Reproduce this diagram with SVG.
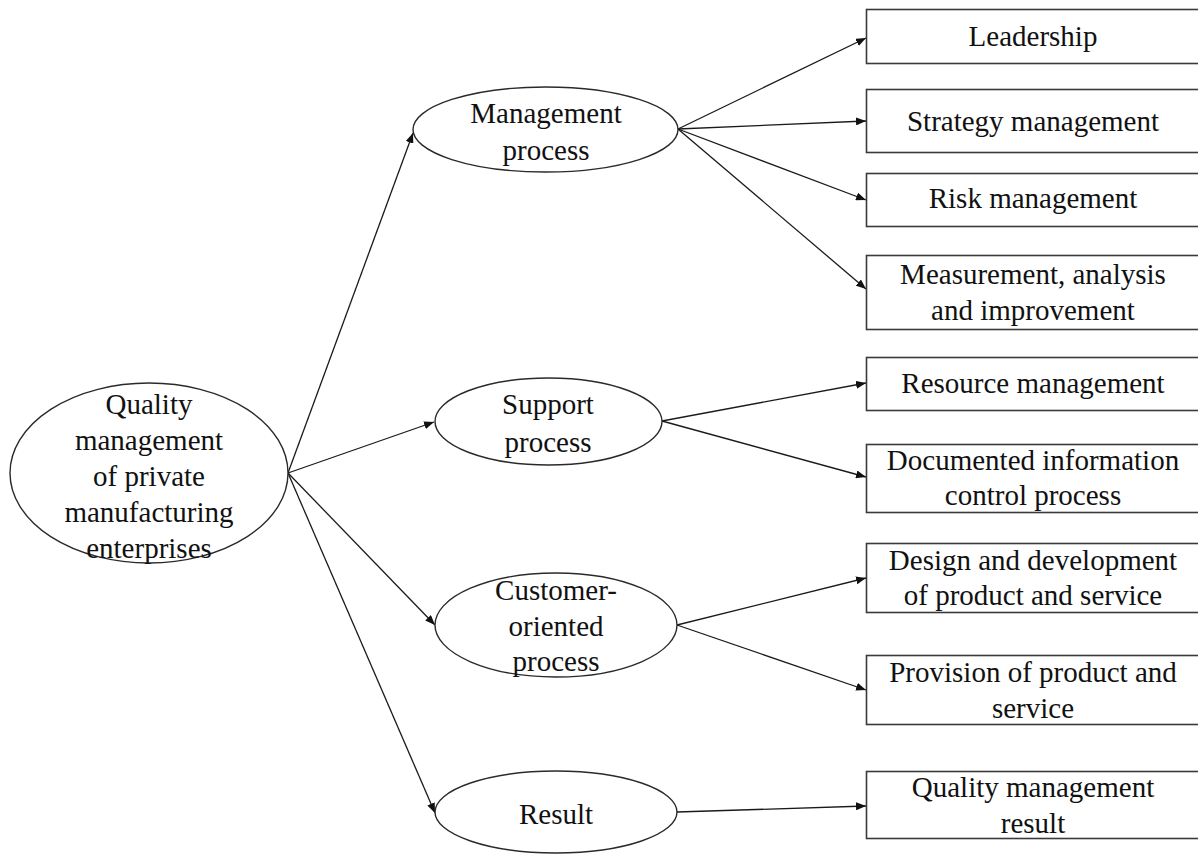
<svg xmlns="http://www.w3.org/2000/svg" width="1198" height="854" viewBox="0 0 1198 854">
  <defs>
    <style>
      .ell { fill: #ffffff; stroke: #2a2a2a; stroke-width: 1.4; }
      .box { fill: #ffffff; stroke: #3a3a3a; stroke-width: 1.6; }
      .lbl { font-family: "Liberation Serif", "Times New Roman", serif; font-size: 29px; fill: #111111; text-anchor: middle; }
      .edge { fill: none; stroke: #1a1a1a; stroke-width: 1.3; marker-end: url(#arrow); }
    </style>
    <marker id="arrow" viewBox="0 0 10 8" refX="10" refY="4" markerWidth="10" markerHeight="8" markerUnits="userSpaceOnUse" orient="auto">
      <path d="M0,0 L10,4 L0,8 Z" fill="#111111"/>
    </marker>
  </defs>

  <rect width="1198" height="854" fill="#ffffff"/>

  <!-- connectors -->
  <g id="connectors">
    <line class="edge" x1="288" y1="473" x2="413" y2="133"/>
    <line class="edge" x1="288" y1="473" x2="434" y2="422"/>
    <line class="edge" x1="288" y1="473" x2="435" y2="625"/>
    <line class="edge" x1="288" y1="473" x2="435" y2="813"/>

    <line class="edge" x1="678" y1="129" x2="866" y2="38"/>
    <line class="edge" x1="678" y1="129" x2="866" y2="121"/>
    <line class="edge" x1="678" y1="129" x2="866" y2="200"/>
    <line class="edge" x1="678" y1="129" x2="866" y2="289"/>

    <line class="edge" x1="662" y1="421" x2="866" y2="383"/>
    <line class="edge" x1="662" y1="421" x2="866" y2="477"/>

    <line class="edge" x1="677" y1="625" x2="866" y2="578"/>
    <line class="edge" x1="677" y1="625" x2="866" y2="690"/>

    <line class="edge" x1="677" y1="812" x2="866" y2="806"/>
  </g>

  <!-- root -->
  <g id="node-root">
    <ellipse class="ell" cx="149" cy="473" rx="139" ry="90"/>
    <text class="lbl" x="149" y="414">Quality</text>
    <text class="lbl" x="149" y="450">management</text>
    <text class="lbl" x="149" y="486">of private</text>
    <text class="lbl" x="149" y="522">manufacturing</text>
    <text class="lbl" x="149" y="558">enterprises</text>
  </g>

  <!-- process ellipses -->
  <g id="node-management">
    <ellipse class="ell" cx="545.5" cy="129.5" rx="132.5" ry="42.5"/>
    <text class="lbl" x="546" y="123">Management</text>
    <text class="lbl" x="546" y="160">process</text>
  </g>
  <g id="node-support">
    <ellipse class="ell" cx="548.5" cy="421.5" rx="113.5" ry="43.5"/>
    <text class="lbl" x="548" y="414">Support</text>
    <text class="lbl" x="548" y="452">process</text>
  </g>
  <g id="node-customer">
    <ellipse class="ell" cx="556" cy="625" rx="121" ry="52"/>
    <text class="lbl" x="556" y="600">Customer-</text>
    <text class="lbl" x="556" y="636">oriented</text>
    <text class="lbl" x="556" y="671">process</text>
  </g>
  <g id="node-result">
    <ellipse class="ell" cx="556" cy="812" rx="121" ry="41"/>
    <text class="lbl" x="556" y="824">Result</text>
  </g>

  <!-- outcome boxes -->
  <g id="node-leadership">
    <rect class="box" x="866.5" y="9.5" width="340" height="54"/>
    <text class="lbl" x="1033" y="46">Leadership</text>
  </g>
  <g id="node-strategy">
    <rect class="box" x="866.5" y="89.5" width="340" height="63"/>
    <text class="lbl" x="1033" y="131">Strategy management</text>
  </g>
  <g id="node-risk">
    <rect class="box" x="866.5" y="173.5" width="340" height="53"/>
    <text class="lbl" x="1033" y="208">Risk management</text>
  </g>
  <g id="node-measurement">
    <rect class="box" x="866.5" y="255.5" width="340" height="74"/>
    <text class="lbl" x="1033" y="284">Measurement, analysis</text>
    <text class="lbl" x="1033" y="320">and improvement</text>
  </g>
  <g id="node-resource">
    <rect class="box" x="866.5" y="357.5" width="340" height="53"/>
    <text class="lbl" x="1033" y="393">Resource management</text>
  </g>
  <g id="node-documented">
    <rect class="box" x="866.5" y="444.5" width="340" height="68"/>
    <text class="lbl" x="1033" y="470">Documented information</text>
    <text class="lbl" x="1033" y="505">control process</text>
  </g>
  <g id="node-design">
    <rect class="box" x="866.5" y="543.5" width="340" height="69"/>
    <text class="lbl" x="1033" y="570">Design and development</text>
    <text class="lbl" x="1033" y="605">of product and service</text>
  </g>
  <g id="node-provision">
    <rect class="box" x="866.5" y="655.5" width="340" height="69"/>
    <text class="lbl" x="1033" y="682">Provision of product and</text>
    <text class="lbl" x="1033" y="718">service</text>
  </g>
  <g id="node-quality-result">
    <rect class="box" x="866.5" y="771.5" width="340" height="67"/>
    <text class="lbl" x="1033" y="797">Quality management</text>
    <text class="lbl" x="1033" y="833">result</text>
  </g>
</svg>
